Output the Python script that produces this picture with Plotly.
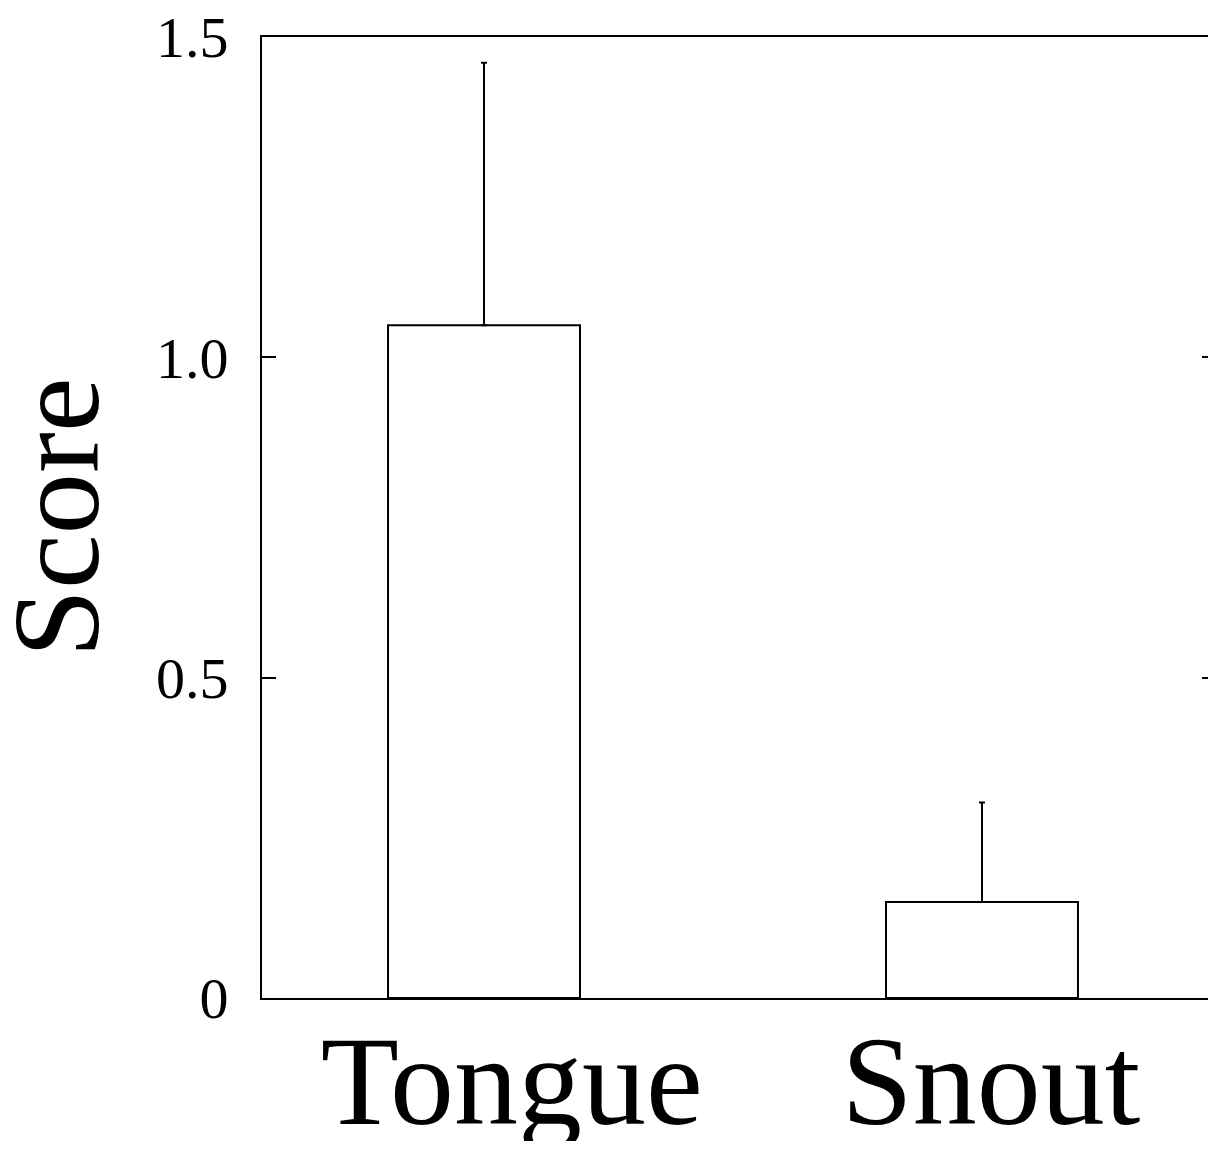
import plotly.graph_objects as go

categories = ["Tongue", "Snout"]
scores = [1.05, 0.15]
errors_up = [0.41, 0.155]
errors_down = [0, 0]
ytick_vals = [0, 0.5, 1.0, 1.5]
ytick_text = ["0", "0.5", "1.0", "1.5"]
y_title = "Score"

FONT = "Liberation Serif, Times New Roman, serif"
positions = list(range(len(categories)))
# category labels sit slightly right of the bar centres in the reference
label_offsets = [0.056, 0.018]
label_positions = [p + o for p, o in zip(positions, label_offsets)]

fig = go.Figure()
fig.add_trace(go.Bar(
    x=positions,
    y=scores,
    width=0.3855,
    marker=dict(color="white", line=dict(color="black", width=2)),
    error_y=dict(type="data", symmetric=False, array=errors_up, arrayminus=errors_down,
                 color="black", thickness=2, width=3),
    showlegend=False,
    hoverinfo="skip",
))
# invisible companion trace so the right-hand tick axis is rendered
fig.add_trace(go.Scatter(
    x=positions, y=scores, yaxis="y2", mode="markers",
    marker=dict(opacity=0, size=1), showlegend=False, hoverinfo="skip",
))

fig.add_annotation(
    text=y_title, textangle=-90, showarrow=False,
    xref="paper", yref="paper", x=0, y=0.5,
    xanchor="center", yanchor="middle", xshift=-206,
    font=dict(size=123, family=FONT, color="black"),
)

fig.update_layout(
    template="none",
    width=1208, height=1133,
    margin=dict(l=254, r=0, t=29, b=143, pad=0),
    paper_bgcolor="white", plot_bgcolor="white",
    font=dict(family=FONT, color="black"),
    xaxis=dict(
        range=[-0.4458, 1.4699],
        tickvals=label_positions, ticktext=categories,
        ticks="", showline=True, mirror=True, linecolor="black", linewidth=2,
        showgrid=False, zeroline=False, automargin=False,
        tickfont=dict(size=128, family=FONT), ticklabelstandoff=-30,
        ticklabeloverflow="allow",
    ),
    yaxis=dict(
        range=[0, 1.5],
        tickvals=ytick_vals, ticktext=ytick_text,
        ticks="inside", ticklen=14, tickwidth=2, tickcolor="black",
        showline=True, linecolor="black", linewidth=2, mirror=False,
        showgrid=False, zeroline=False, automargin=False,
        tickfont=dict(size=58, family=FONT), ticklabelstandoff=20,
        ticklabeloverflow="allow",
    ),
    yaxis2=dict(
        range=[0, 1.5], overlaying="y", side="right",
        tickvals=ytick_vals, ticks="inside", ticklen=14, tickwidth=2, tickcolor="black",
        showticklabels=False, showline=False, showgrid=False, zeroline=False,
        automargin=False,
    ),
)

fig.write_html("out.html")
